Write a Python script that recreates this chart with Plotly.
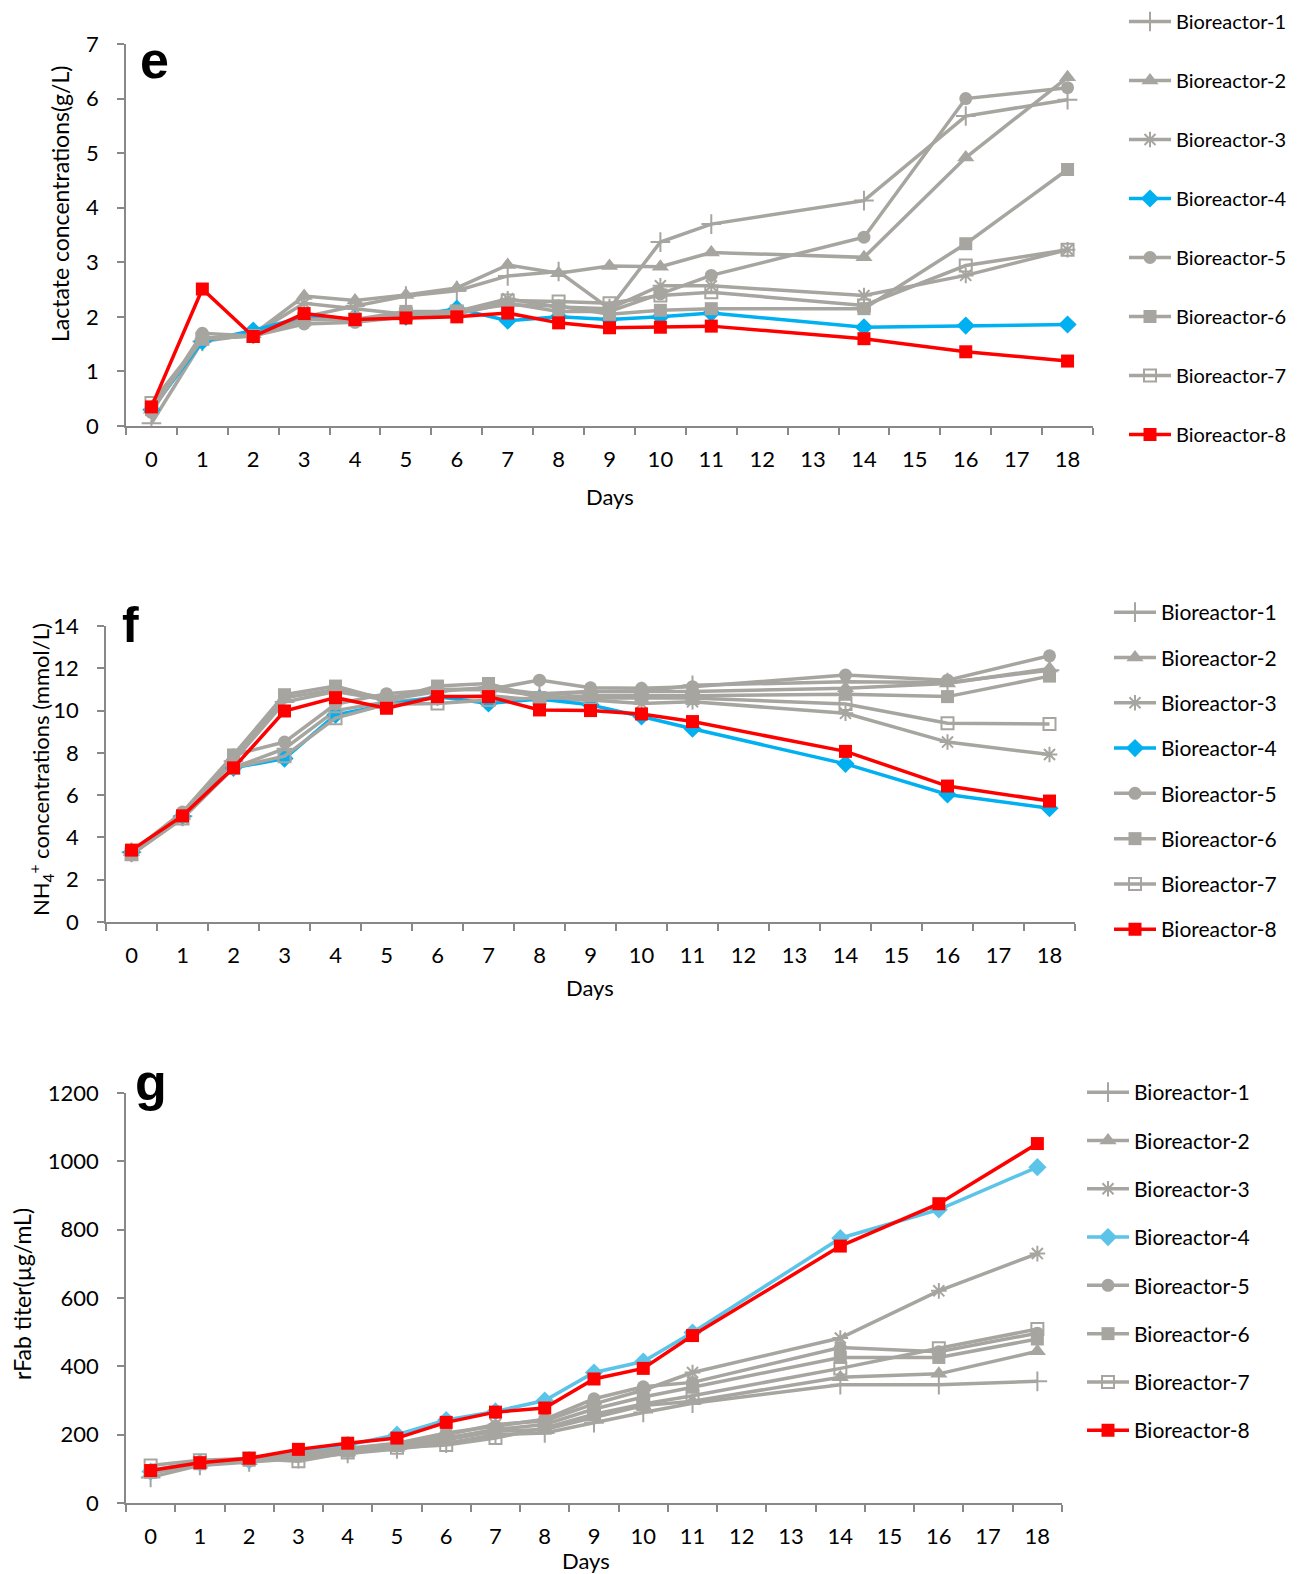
import plotly.graph_objects as go

W, H = 1298, 1574

days = ["0", "1", "2", "3", "4", "5", "6", "7", "8", "9", "10", "11", "14", "16", "18"]
all_days = [str(i) for i in range(19)]
names = ["Bioreactor-1", "Bioreactor-2", "Bioreactor-3", "Bioreactor-4",
         "Bioreactor-5", "Bioreactor-6", "Bioreactor-7", "Bioreactor-8"]

# Panel e: lactate (g/L)
lac_b1 = [0.05, 1.55, 1.68, 2.0, 2.2, 2.38, 2.48, 2.75, 2.83, 2.15, 3.37, 3.70, 4.13, 5.68, 5.98]
lac_b2 = [0.3, 1.6, 1.68, 2.38, 2.3, 2.4, 2.53, 2.95, 2.8, 2.93, 2.92, 3.18, 3.09, 4.92, 6.39]
lac_b3 = [0.3, 1.6, 1.68, 2.25, 2.15, 2.05, 2.1, 2.33, 2.18, 2.15, 2.57, 2.57, 2.39, 2.76, 3.23]
lac_b4 = [0.3, 1.55, 1.75, 2.0, 1.95, 2.0, 2.15, 1.93, 2.0, 1.95, 2.0, 2.07, 1.81, 1.84, 1.86]
lac_b5 = [0.25, 1.7, 1.65, 1.87, 1.9, 2.0, 2.05, 2.25, 2.1, 2.1, 2.42, 2.76, 3.46, 6.0, 6.2]
lac_b6 = [0.3, 1.6, 1.65, 1.95, 1.95, 2.1, 2.1, 2.22, 2.2, 2.05, 2.12, 2.15, 2.15, 3.34, 4.70]
lac_b7 = [0.42, 1.6, 1.65, 1.95, 1.95, 2.05, 2.1, 2.3, 2.28, 2.25, 2.39, 2.45, 2.21, 2.94, 3.23]
lac_b8 = [0.35, 2.51, 1.64, 2.06, 1.95, 1.98, 2.0, 2.07, 1.89, 1.80, 1.81, 1.83, 1.60, 1.36, 1.19]

# Panel f: NH4+ (mmol/L)
nh4_b1 = [3.3, 5.0, 7.6, 10.4, 10.9, 10.5, 10.9, 11.1, 10.8, 10.9, 10.9, 11.2, 11.36, 11.33, 11.91]
nh4_b2 = [3.3, 5.0, 7.8, 10.6, 11.0, 10.6, 11.0, 11.0, 10.7, 10.9, 10.9, 10.9, 11.05, 11.28, 11.99]
nh4_b3 = [3.2, 4.9, 7.3, 8.2, 10.0, 10.4, 10.6, 10.7, 10.5, 10.5, 10.34, 10.42, 9.87, 8.51, 7.92]
nh4_b4 = [3.3, 5.0, 7.29, 7.73, 9.8, 10.27, 10.66, 10.34, 10.55, 10.27, 9.72, 9.14, 7.48, 6.03, 5.38]
nh4_b5 = [3.3, 5.2, 7.9, 8.51, 10.3, 10.8, 11.0, 11.0, 11.44, 11.08, 11.05, 11.13, 11.68, 11.44, 12.59]
nh4_b6 = [3.2, 5.0, 7.9, 10.75, 11.16, 10.5, 11.16, 11.28, 10.6, 10.7, 10.7, 10.7, 10.77, 10.66, 11.63]
nh4_b7 = [3.2, 4.9, 7.3, 7.84, 9.64, 10.3, 10.34, 10.5, 10.6, 10.6, 10.6, 10.6, 10.31, 9.40, 9.37]
nh4_b8 = [3.40, 5.02, 7.29, 9.98, 10.61, 10.11, 10.66, 10.66, 10.03, 10.0, 9.84, 9.48, 8.07, 6.43, 5.72]

# Panel g: rFab titer (ug/mL)
fab_b1 = [75, 110, 120, 130, 145, 158, 175, 200, 205, 235, 265, 292, 346, 346, 356]
fab_b2 = [88, 112, 122, 135, 148, 162, 185, 210, 215, 250, 285, 298, 368, 378, 444]
fab_b3 = [90, 118, 128, 140, 155, 170, 200, 230, 240, 290, 330, 382, 483, 621, 730]
fab_b4 = [92, 118, 125, 150, 170, 200, 243, 268, 300, 382, 414, 499, 775, 859, 983]
fab_b5 = [95, 120, 130, 145, 160, 175, 205, 225, 245, 305, 340, 353, 455, 443, 497]
fab_b6 = [90, 115, 125, 138, 152, 168, 190, 215, 230, 275, 310, 339, 426, 426, 480]
fab_b7 = [110, 125, 130, 122, 148, 162, 170, 190, 220, 260, 290, 314, 394, 453, 509]
fab_b8 = [95, 118, 131, 157, 175, 190, 236, 266, 278, 363, 394, 490, 752, 876, 1052]

GRAY = "#A6A5A0"
RED = "#FF0000"
BLUE_EF = "#00B0F0"
BLUE_G = "#5BC4E8"
AXIS = "#888888"
FONT = "Lato"

styles = [
    dict(symbol="cross-thin-open", size=14),
    dict(symbol="triangle-up", size=15),
    dict(symbol="asterisk-open", size=13),
    dict(symbol="diamond", size=14),
    dict(symbol="circle", size=13),
    dict(symbol="square", size=13),
    dict(symbol="square-open", size=12),
    dict(symbol="square", size=13),
]


def px_x(p):
    return p / W


def px_y(p):
    return 1 - p / H


fig = go.Figure()

panels = [
    ("", [lac_b1, lac_b2, lac_b3, lac_b4, lac_b5, lac_b6, lac_b7, lac_b8], BLUE_EF, "legend"),
    ("2", [nh4_b1, nh4_b2, nh4_b3, nh4_b4, nh4_b5, nh4_b6, nh4_b7, nh4_b8], BLUE_EF, "legend2"),
    ("3", [fab_b1, fab_b2, fab_b3, fab_b4, fab_b5, fab_b6, fab_b7, fab_b8], BLUE_G, "legend3"),
]

for suffix, series, blue, leg in panels:
    for i, (nm, vals) in enumerate(zip(names, series)):
        col = RED if i == 7 else (blue if i == 3 else GRAY)
        st = styles[i]
        open_sym = st["symbol"].endswith("-open")
        fig.add_trace(go.Scatter(
            x=days, y=vals, name=nm, mode="lines+markers",
            xaxis="x" + suffix, yaxis="y" + suffix,
            legend=leg, legendgroup=leg + nm,
            line=dict(color=col, width=3.5),
            marker=dict(symbol=st["symbol"], size=st["size"], color=col,
                        line=dict(color=col, width=2 if open_sym else 0)),
        ))

xdoms = [(118, 1085), (98, 1067), (118, 1054)]
ydoms = [(36, 418), (618, 914), (1085, 1495)]
yranges = [(0, 7, 1), (0, 14, 2), (0, 1200, 200)]

layout = dict(
    width=W, height=H, margin=dict(l=0, r=0, t=0, b=0, autoexpand=False),
    paper_bgcolor="white", plot_bgcolor="white",
    font=dict(family=FONT, size=21, color="black"),
)

for k, suffix in enumerate(["", "2", "3"]):
    xd, yd, yr = xdoms[k], ydoms[k], yranges[k]
    layout["xaxis" + suffix] = dict(
        type="category", categoryorder="array", categoryarray=all_days,
        range=[-0.5, 18.5], domain=[px_x(xd[0]), px_x(xd[1])],
        anchor="y" + suffix, showline=True, linecolor=AXIS, linewidth=1.5,
        ticks="outside", tickson="boundaries", ticklen=7, tickcolor=AXIS, tickwidth=1.5,
        showgrid=False, zeroline=False, ticklabelstandoff=13,
        tickfont=dict(family=FONT, size=22, color="black"),
    )
    layout["yaxis" + suffix] = dict(
        range=[yr[0], yr[1]], dtick=yr[2], tick0=0,
        domain=[px_y(yd[1]), px_y(yd[0])],
        anchor="x" + suffix, showline=True, linecolor=AXIS, linewidth=1.5,
        ticks="outside", ticklen=7, tickcolor=AXIS, tickwidth=1.5,
        showgrid=False, zeroline=False, ticklabelstandoff=14,
        tickfont=dict(family=FONT, size=22, color="black"),
    )

leg_specs = [("legend", 1116, -6, 30, 20), ("legend2", 1101, 584, 15, 21), ("legend3", 1074, 1064, 18, 21)]
for name, lx, ly, gap, fs in leg_specs:
    layout[name] = dict(
        x=px_x(lx), y=px_y(ly), xanchor="left", yanchor="top",
        bgcolor="rgba(0,0,0,0)", borderwidth=0, itemwidth=42,
        tracegroupgap=gap, font=dict(family=FONT, size=fs, color="black"),
        traceorder="grouped",
    )

fig.update_layout(**layout)

annos = [
    dict(text="<b>e</b>", x=px_x(146), y=px_y(52), font=dict(family="Liberation Sans", size=52)),
    dict(text="<b>f</b>", x=px_x(122), y=px_y(617), font=dict(family="Liberation Sans", size=50)),
    dict(text="<b>g</b>", x=px_x(143), y=px_y(1074), font=dict(family="Liberation Sans", size=52)),
    dict(text="Lactate concentrations(g/L)", x=px_x(52), y=px_y(196), textangle=-90,
         font=dict(family=FONT, size=23)),
    dict(text="NH<sub>4</sub><sup>+</sup> concentrations (mmol/L)", x=px_x(33), y=px_y(762), textangle=-90,
         font=dict(family=FONT, size=22)),
    dict(text="rFab titer(µg/mL)", x=px_x(14), y=px_y(1286), textangle=-90,
         font=dict(family=FONT, size=23)),
    dict(text="Days", x=px_x(602), y=px_y(488), font=dict(family=FONT, size=22)),
    dict(text="Days", x=px_x(582), y=px_y(980), font=dict(family=FONT, size=22)),
    dict(text="Days", x=px_x(578), y=px_y(1552), font=dict(family=FONT, size=22)),
]
for a in annos:
    f = a.pop("font")
    f.setdefault("color", "black")
    fig.add_annotation(xref="paper", yref="paper", xanchor="center", yanchor="middle",
                       showarrow=False, font=f, **a)

fig.write_html("out.html")
